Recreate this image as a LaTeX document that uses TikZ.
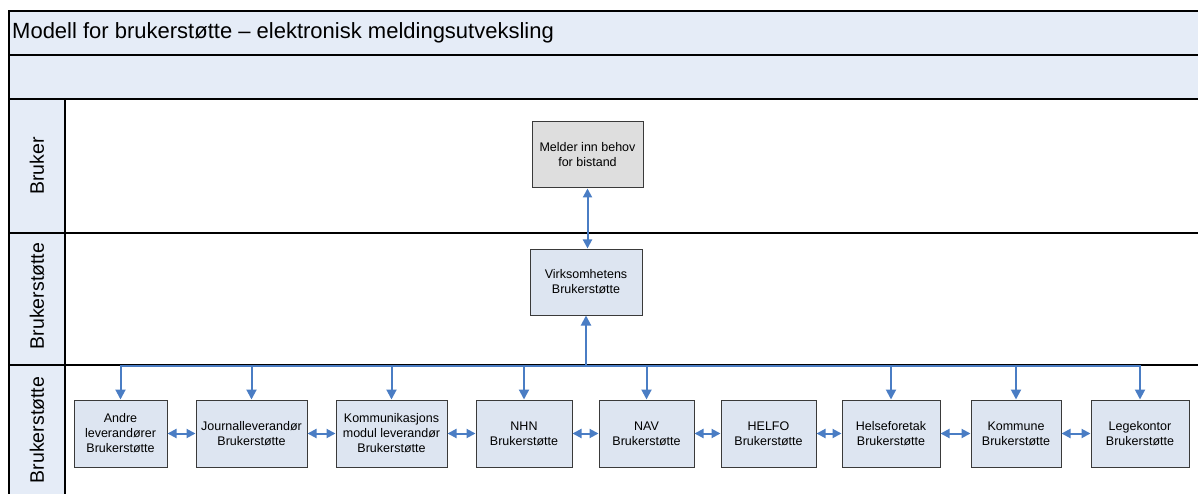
\documentclass[tikz,border=0pt]{standalone}
\usepackage{fontspec}
\setmainfont{Liberation Sans}
\usetikzlibrary{arrows.meta}
\definecolor{bandfill}{HTML}{E5ECF7}
\definecolor{boxfill}{HTML}{DDE5F1}
\definecolor{greyfill}{HTML}{DEDEDE}
\definecolor{flow}{HTML}{4A7DC4}
\definecolor{edge}{HTML}{3A3A3A}

\begin{document}
\begin{tikzpicture}[x=1pt,y=-1pt,
  lane/.style={line width=1.6pt,black},
  stepbox/.style={draw=edge,line width=1pt,fill=boxfill,inner sep=0pt,align=center,
    minimum height=67pt,font=\fontsize{12.5}{15}\selectfont},
  flowline/.style={draw=flow,line width=2pt},
  tip/.style={-{Triangle[length=10pt,width=10pt]}},
  both/.style={{Triangle[length=9pt,width=9pt]}-{Triangle[length=9pt,width=9pt]}},
  lanelabel/.style={rotate=90,font=\fontsize{19.5}{22}\selectfont}
]
\useasboundingbox (0,0) rectangle (1198,494);

% header bands and lane-label column
\fill[bandfill] (9,11) rectangle (1198,99);
\fill[bandfill] (9,99) rectangle (65,494);
\node[anchor=west,inner sep=0pt,font=\fontsize{22}{24}\selectfont] (title) at (12,33)
  {Modell for brukerstøtte – elektronisk meldingsutveksling};

% lane grid
\draw[lane] (9,11) -- (1198,11);
\draw[lane] (9,55) -- (1198,55);
\draw[lane] (9,99) -- (1198,99);
\draw[lane] (9,233) -- (1198,233);
\draw[lane] (9,365) -- (1198,365);
\draw[lane] (9,10.2) -- (9,494);
\draw[lane] (65,99) -- (65,494);

% lane labels
\node[lanelabel] (l1) at (37,166) {Bruker};
\node[lanelabel] (l2) at (37,296) {Brukerstøtte};
\node[lanelabel] (l3) at (37,430) {Brukerstøtte};

% user lane
\node[stepbox,fill=greyfill,minimum width=111pt,minimum height=66pt] (melder) at (587.5,155)
  {Melder inn behov\\for bistand};

% support lane
\node[stepbox,minimum width=112pt,minimum height=66pt] (virk) at (586,282)
  {Virksomhetens\\Brukerstøtte};

% support providers
\node[stepbox,minimum width=93pt]  (andre)   at (120.5,433.5) {Andre\\leverandører\\Brukerstøtte};
\node[stepbox,minimum width=111pt] (journal) at (251.5,433.5) {Journalleverandør\\Brukerstøtte};
\node[stepbox,minimum width=111pt] (komm)    at (391.5,433.5) {Kommunikasjons\\modul leverandør\\Brukerstøtte};
\node[stepbox,minimum width=96pt]  (nhn)     at (524,433.5)   {NHN\\Brukerstøtte};
\node[stepbox,minimum width=95pt]  (nav)     at (646.5,433.5) {NAV\\Brukerstøtte};
\node[stepbox,minimum width=95pt]  (helfo)   at (768.5,433.5) {HELFO\\Brukerstøtte};
\node[stepbox,minimum width=98pt]  (helse)   at (891,433.5)   {Helseforetak\\Brukerstøtte};
\node[stepbox,minimum width=90pt]  (kommune) at (1016,433.5)  {Kommune\\Brukerstøtte};
\node[stepbox,minimum width=98pt]  (lege)    at (1140,433.5)  {Legekontor\\Brukerstøtte};

% user <-> support
\draw[flowline,both] (melder.south) -- (melder.south |- virk.north);

% distribution bus
\coordinate (bus) at (586,366);
\draw[flowline,tip] (bus) -- (virk.south);
\foreach \t in {andre,journal,komm,nhn,nav,helse,kommune,lege}
  \draw[flowline,tip] (bus) -| (\t.north);

% links between neighbouring providers
\draw[flowline,both] (andre.east) -- (journal.west);
\draw[flowline,both] (journal.east) -- (komm.west);
\draw[flowline,both] (komm.east) -- (nhn.west);
\draw[flowline,both] (nhn.east) -- (nav.west);
\draw[flowline,both] (nav.east) -- (helfo.west);
\draw[flowline,both] (helfo.east) -- (helse.west);
\draw[flowline,both] (helse.east) -- (kommune.west);
\draw[flowline,both] (kommune.east) -- (lege.west);
\end{tikzpicture}
\end{document}
